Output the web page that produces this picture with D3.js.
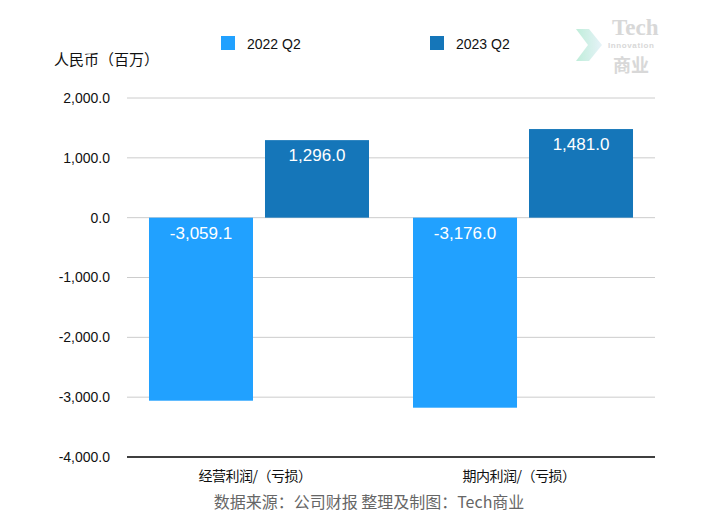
<!DOCTYPE html>
<html>
<head>
<meta charset="utf-8">
<script src="https://cdn.jsdelivr.net/npm/d3@7"></script>
<style>
  html, body { margin: 0; padding: 0; background: #fff; }
  svg { display: block; font-family: "Liberation Sans", Arial, "Noto Sans CJK SC", sans-serif; }
</style>
</head>
<body>
<div id="chart"></div>
<script>
const categories = ["经营利润/（亏损）", "期内利润/（亏损）"];
const series = ["2022 Q2", "2023 Q2"];
const values2022 = [-3059.1, -3176.0];
const values2023 = [1296.0, 1481.0];
const yTicks = [2000, 1000, 0, -1000, -2000, -3000, -4000];
const colors = ["#21a1ff", "#1576b9"];

const W = 720, H = 532;
const margin = { top: 98, right: 65, bottom: 75, left: 127 };
const width = W - margin.left - margin.right;
const height = H - margin.top - margin.bottom;

// d3 uses a unicode minus, the reference uses a plain hyphen
const fmt = (v) => d3.format(",.1f")(v).replace("\u2212", "-");

const data = categories.map((c, i) => ({
  category: c,
  values: [
    { series: series[0], value: values2022[i] },
    { series: series[1], value: values2023[i] },
  ],
}));

const svgRoot = d3.select("#chart").append("svg")
  .attr("width", W).attr("height", H)
  .attr("viewBox", `0 0 ${W} ${H}`);
const svg = svgRoot.append("g")
  .attr("transform", `translate(${margin.left},${margin.top})`);

const x0 = d3.scaleBand().domain(categories).range([0, width])
  .paddingInner(0.1667).paddingOuter(0.0833);
const x1 = d3.scaleBand().domain(series).range([0, x0.bandwidth()])
  .paddingInner(0.1034);
const y = d3.scaleLinear().domain([-4000, 2000]).range([height, 0]);

// gridlines
svg.append("g")
  .selectAll("line")
  .data(yTicks.filter((d) => d !== -4000))
  .join("line")
  .attr("x1", 0).attr("x2", width)
  .attr("y1", (d) => y(d)).attr("y2", (d) => y(d))
  .attr("stroke", "#cccccc").attr("stroke-width", 1);

// y axis labels
const yAxis = svg.append("g")
  .call(d3.axisLeft(y).tickValues(yTicks).tickSize(0).tickPadding(17)
    .tickFormat(fmt));
yAxis.select(".domain").remove();
yAxis.selectAll("text")
  .style("font-size", "14px")
  .style("font-family", "\"Liberation Sans\", Arial, sans-serif")
  .attr("fill", "#111");

// bars
const groups = svg.append("g")
  .selectAll("g")
  .data(data)
  .join("g")
  .attr("transform", (d) => `translate(${x0(d.category)},0)`);

groups.selectAll("rect")
  .data((d) => d.values)
  .join("rect")
  .attr("x", (d) => x1(d.series))
  .attr("y", (d) => y(Math.max(0, d.value)))
  .attr("width", x1.bandwidth())
  .attr("height", (d) => Math.abs(y(d.value) - y(0)))
  .attr("fill", (d, i) => colors[i]);

groups.selectAll("text")
  .data((d) => d.values)
  .join("text")
  .attr("x", (d) => x1(d.series) + x1.bandwidth() / 2)
  .attr("y", (d) => y(Math.max(0, d.value)) + 21)
  .attr("text-anchor", "middle")
  .attr("fill", "#fff")
  .style("font-size", "17px")
  .text((d) => fmt(d.value));

// bottom axis line
svg.append("line")
  .attr("x1", 0).attr("x2", width)
  .attr("y1", y(-4000)).attr("y2", y(-4000))
  .attr("stroke", "#3f3f3f").attr("stroke-width", 2);

// category labels
svg.append("g")
  .selectAll("text")
  .data(categories)
  .join("text")
  .attr("x", (d) => x0(d) + x0.bandwidth() / 2)
  .attr("dx", -4)
  .attr("y", height + 24)
  .attr("text-anchor", "middle")
  .attr("fill", "#111")
  .style("font-size", "14px")
  .style("letter-spacing", "-0.5px")
  .style("font-family", "\"Noto Sans CJK SC\", sans-serif")
  .text((d) => d);

// y unit
svgRoot.append("text")
  .attr("x", 54).attr("y", 65)
  .attr("fill", "#111")
  .style("font-size", "15px")
  .style("font-family", "\"Noto Sans CJK SC\", sans-serif")
  .text("人民币（百万）");

// legend
const legendX = [221, 430];
const legend = svgRoot.append("g")
  .selectAll("g")
  .data(series)
  .join("g")
  .attr("transform", (d, i) => `translate(${legendX[i]},36)`);
legend.append("rect")
  .attr("width", 14).attr("height", 14)
  .attr("fill", (d, i) => colors[i]);
legend.append("text")
  .attr("x", 26).attr("y", 12.5)
  .attr("fill", "#111")
  .style("font-size", "14px")
  .text((d) => d);

// footer
svgRoot.append("text")
  .attr("x", 369).attr("y", 508)
  .attr("text-anchor", "middle")
  .attr("fill", "#666")
  .style("font-size", "16px")
  .style("font-family", "\"Noto Sans CJK SC\", sans-serif")
  .text("数据来源：公司财报 整理及制图：Tech商业");

// watermark logo
const grad = svgRoot.append("defs").append("linearGradient")
  .attr("id", "arrowGrad").attr("x1", "0").attr("x2", "1");
grad.append("stop").attr("offset", "0").attr("stop-color", "#b9ecd6");
grad.append("stop").attr("offset", "1").attr("stop-color", "#e4f2f8");
const logo = svgRoot.append("g").attr("opacity", 0.9);
logo.append("path")
  .attr("d", "M576,29 L589,29 L602,45 L589,61 L576,61 L588,45 Z")
  .attr("fill", "url(#arrowGrad)");
logo.append("text")
  .attr("x", 612).attr("y", 35)
  .attr("fill", "#d4d4d4")
  .style("font-family", "\"Liberation Serif\", serif")
  .style("font-weight", "bold")
  .style("font-size", "23px")
  .text("Tech");
logo.append("text")
  .attr("x", 608).attr("y", 48)
  .attr("fill", "#d4d4d4")
  .style("font-weight", "bold")
  .style("font-size", "8px")
  .style("letter-spacing", "0.6px")
  .text("Innovation");
logo.append("text")
  .attr("x", 613).attr("y", 72)
  .attr("fill", "#d4d4d4")
  .style("font-family", "\"Noto Sans CJK SC\", sans-serif")
  .style("font-weight", "bold")
  .style("font-size", "18px")
  .text("商业");
</script>
</body>
</html>
